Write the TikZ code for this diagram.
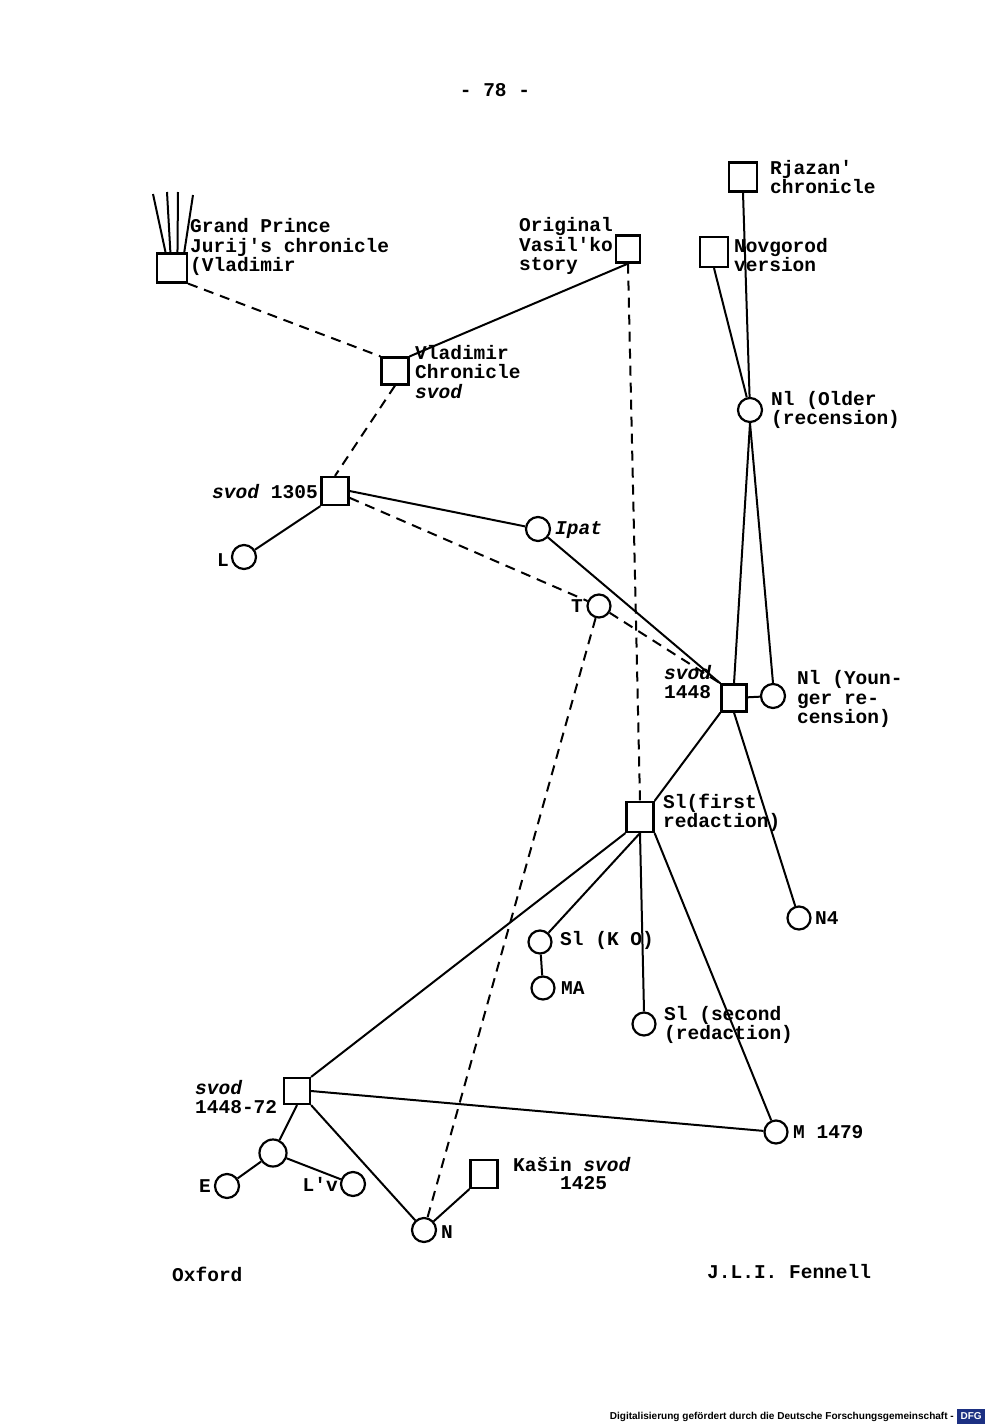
\documentclass[tikz,border=0pt]{standalone}
\usepackage{fontspec}
\usetikzlibrary{calc}
\newfontfamily\tw{Liberation Mono}
\newfontfamily\sansf{Liberation Sans}
\definecolor{dfgblue}{RGB}{28,48,130}
\newcommand\sv{\textit{svod}}
\tikzset{
  box/.style={draw, line width=2.2pt, minimum size=27pt, inner sep=0pt},
  circ/.style={draw, circle, line width=2.2pt, minimum size=24pt, inner sep=0pt},
  lbl/.style={font=\tw\bfseries\fontsize{19.5}{19.5}\selectfont, inner sep=0pt, align=left},
  edge/.style={line width=2pt},
  dashedge/.style={line width=2pt, dash pattern=on 10pt off 7pt}
}
\begin{document}
\begin{tikzpicture}[x=1pt,y=-1pt]
\path[use as bounding box, fill=white] (0,0) rectangle (1000,1427);

% boxes
\node[box, minimum width=30pt, minimum height=29pt] (gp) at (172,268) {};
\node[box, minimum width=24pt] (vas) at (628,249) {};
\node[box, minimum width=28pt, minimum height=29pt] (rja) at (743,177) {};
\node[box, minimum width=28pt, minimum height=30pt] (nov) at (714,252) {};
\node[box] (vlad) at (395,371) {};
\node[box, minimum height=28pt] (s1305) at (335,491) {};
\node[box, minimum width=25pt] (s1448) at (734,698) {};
\node[box, minimum height=30pt] (s1f) at (640,817) {};
\node[box, minimum size=26pt] (s4872) at (297,1091) {};
\node[box, minimum height=28pt] (kas) at (484,1174) {};

% circles
\node[circ] (n1o) at (750,410) {};
\node[circ] (cL) at (244,557) {};
\node[circ] (ipat) at (538,529) {};
\node[circ, minimum size=23pt] (cT) at (599,606) {};
\node[circ] (n1y) at (773,696) {};
\node[circ, minimum size=23pt] (n4) at (799,918) {};
\node[circ, minimum size=23pt] (sko) at (540,942) {};
\node[circ, minimum size=23pt] (ma) at (543,988) {};
\node[circ, minimum size=23pt] (s1s) at (644,1024) {};
\node[circ, minimum size=23pt] (m1479) at (776,1132) {};
\node[circ, minimum size=27pt] (sc) at (273,1153) {};
\node[circ] (cE) at (227,1186) {};
\node[circ] (cLv) at (353,1184) {};
\node[circ] (cN) at (424,1230) {};

% labels
\node[lbl, anchor=west] (tgp) at (190,247) {Grand Prince\\Jurij's chronicle\\(Vladimir};
\node[lbl, anchor=west] (tvas) at (519,246) {Original\\Vasil'ko\\story};
\node[lbl, anchor=west] (trja) at (770,177) {Rjazan'\\chronicle};
\node[lbl, anchor=west] (tnov) at (734,255) {Novgorod\\version};
\node[lbl, anchor=west] (tvlad) at (415,372) {Vladimir\\Chronicle\\\sv};
\node[lbl, anchor=east] (t1305) at (318,492) {\sv{} 1305};
\node[lbl, anchor=east] (tL) at (229,560) {L};
\node[lbl, anchor=west] (tipat) at (555,530) {\textit{Ipat}};
\node[lbl, anchor=east] (tT) at (583,606) {T};
\node[lbl, anchor=west] (tn1o) at (771,410) {Nl (Older\\(recension)};
\node[lbl, anchor=west] (t1448) at (664,682) {\sv\\1448};
\node[lbl, anchor=west] (tn1y) at (797,699) {Nl (Youn-\\ger re-\\cension)};
\node[lbl, anchor=west] (ts1f) at (663,813) {Sl(first\\redaction)};
\node[lbl, anchor=west] (tn4) at (815,918) {N4};
\node[lbl, anchor=west] (tsko) at (560,940) {Sl (K O)};
\node[lbl, anchor=west] (tma) at (561,988) {MA};
\node[lbl, anchor=west] (ts1s) at (664,1025) {Sl (second\\(redaction)};
\node[lbl, anchor=west] (tm) at (793,1132) {M 1479};
\node[lbl, anchor=west] (t4872) at (195,1097) {\sv\\1448-72};
\node[lbl, anchor=east] (tE) at (211,1186) {E};
\node[lbl, anchor=east] (tLv) at (338,1184) {L'v};
\node[lbl, anchor=west] (tN) at (441,1232) {N};
\node[lbl, anchor=west] (tkas) at (513,1165) {Kašin \sv};
\node[lbl, anchor=west] (tkas2) at (560,1183) {1425};

\node[lbl, anchor=center] (page) at (495,90) {- 78 -};
\node[lbl, anchor=west] (oxf) at (172,1274) {Oxford};
\node[lbl, anchor=west] (fen) at (707,1272) {J.L.I. Fennell};

% fan lines above Grand Prince box
\coordinate (f1) at (153,194);
\coordinate (f2) at (167,192);
\coordinate (f3) at (178,192);
\coordinate (f4) at (193,195);
\draw[edge] ($(gp.north west)!0.3!(gp.north east)$) -- (f1);
\draw[edge] ($(gp.north west)!0.45!(gp.north east)$) -- (f2);
\draw[edge] ($(gp.north west)!0.67!(gp.north east)$) -- (f3);
\draw[edge] ($(gp.north west)!0.88!(gp.north east)$) -- (f4);

% connectors
\draw[dashedge] (gp.south east) -- (vlad.north west);
\draw[edge] (vas.south) -- (vlad.north east);
\draw[dashedge] (vas.south) -- (s1f.north);
\draw[dashedge] (vlad.south) -- (s1305.north);
\draw[edge] (rja.south) -- (n1o);
\draw[edge] (nov.south) -- (n1o);
\draw[edge] (n1o.south) -- (s1448.north);
\draw[edge] (n1o.south) -- (n1y.north);
\draw[edge] (s1305.east) -- (ipat);
\draw[edge] (s1305.south west) -- (cL);
\draw[dashedge] (s1305.-25) -- (cT);
\draw[dashedge] (cT) -- (s1448.north west);
\draw[edge] (ipat) -- (s1448.north west);
\draw[dashedge] (cT) -- (cN);
\draw[edge] (s1448) -- (n1y);
\draw[edge] (s1448.south west) -- (s1f.north east);
\draw[edge] (s1448.south) -- (n4);
\draw[edge] (s1f.south west) -- (s4872.north east);
\draw[edge] (s1f.south) -- (sko);
\draw[edge] (s1f.south) -- (s1s.north);
\draw[edge] (s1f.south east) -- (m1479);
\draw[edge] (sko) -- (ma);
\draw[edge] (s4872.east) -- (m1479);
\draw[edge] (s4872.south) -- (sc);
\draw[edge] (sc) -- (cE);
\draw[edge] (sc) -- (cLv);
\draw[edge] (s4872.south east) -- (cN);
\draw[edge] (kas.south west) -- (cN);

% digitisation footer
\node[font=\sansf\bfseries\fontsize{10.05}{11}\selectfont, inner sep=0pt, anchor=east] (dfgtxt) at (954,1417) {Digitalisierung gefördert durch die Deutsche Forschungsgemeinschaft -};
\node[fill=dfgblue, text=white, font=\sansf\bfseries\fontsize{10}{10}\selectfont, inner sep=1.5pt, minimum width=28pt, minimum height=15pt, anchor=west] (dfglogo) at (957,1416) {DFG};
\end{tikzpicture}
\end{document}
